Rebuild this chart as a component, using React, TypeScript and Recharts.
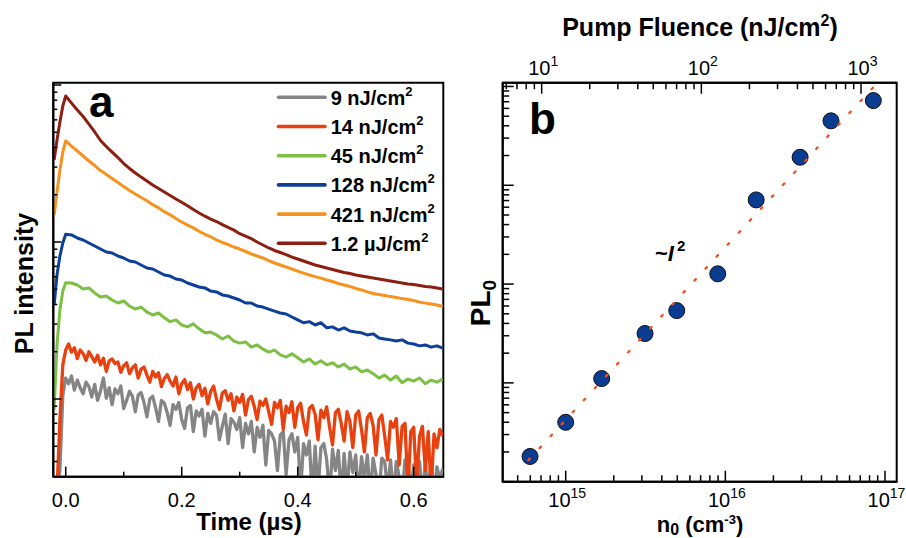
import React from 'react';
import { ComposedChart, Line, XAxis, YAxis, Scatter, Legend, ReferenceArea } from 'recharts';

const FONT = '"Liberation Sans", Arial, Helvetica, sans-serif';

// ---------- Panel a : PL decays (time in µs, PL intensity arb. units, log) ----------
const T_FINE = [
  -0.02, -0.015, -0.01, -0.005, 0, 0.005, 0.01, 0.015, 0.02, 0.025,
  0.03, 0.035, 0.04, 0.045, 0.05, 0.055, 0.06, 0.065, 0.07, 0.075,
  0.08, 0.085, 0.09, 0.095, 0.1, 0.105, 0.11, 0.115, 0.12, 0.125,
  0.13, 0.135, 0.14, 0.145, 0.15, 0.155, 0.16, 0.165, 0.17, 0.175,
  0.18, 0.185, 0.19, 0.195, 0.2, 0.205, 0.21, 0.215, 0.22, 0.225,
  0.23, 0.235, 0.24, 0.245, 0.25, 0.255, 0.26, 0.265, 0.27, 0.275,
  0.28, 0.285, 0.29, 0.295, 0.3, 0.305, 0.31, 0.315, 0.32, 0.325,
  0.33, 0.335, 0.34, 0.345, 0.35, 0.355, 0.36, 0.365, 0.37, 0.375,
  0.38, 0.385, 0.39, 0.395, 0.4, 0.405, 0.41, 0.415, 0.42, 0.425,
  0.43, 0.435, 0.44, 0.445, 0.45, 0.455, 0.46, 0.465, 0.47, 0.475,
  0.48, 0.485, 0.49, 0.495, 0.5, 0.505, 0.51, 0.515, 0.52, 0.525,
  0.53, 0.535, 0.54, 0.545, 0.55, 0.555, 0.56, 0.565, 0.57, 0.575,
  0.58, 0.585, 0.59, 0.595, 0.6, 0.605, 0.61, 0.615, 0.62, 0.625,
  0.63, 0.635, 0.64, 0.645, 0.65,
];

const T_COARSE = [
  -0.02, -0.015, -0.01, -0.005, 0, 0.01, 0.02, 0.03, 0.04, 0.05,
  0.06, 0.07, 0.08, 0.09, 0.1, 0.11, 0.12, 0.13, 0.14, 0.15,
  0.16, 0.17, 0.18, 0.19, 0.2, 0.21, 0.22, 0.23, 0.24, 0.25,
  0.26, 0.27, 0.28, 0.29, 0.3, 0.31, 0.32, 0.33, 0.34, 0.35,
  0.36, 0.37, 0.38, 0.39, 0.4, 0.41, 0.42, 0.43, 0.44, 0.45,
  0.46, 0.47, 0.48, 0.49, 0.5, 0.51, 0.52, 0.53, 0.54, 0.55,
  0.56, 0.57, 0.58, 0.59, 0.6, 0.61, 0.62, 0.63, 0.64, 0.65,
];

// 9 nJ/cm² (on T_FINE)
const PL_9 = [
  0.024, 0.024, 0.0353, 0.106, 0.136, 0.125, 0.14, 0.114, 0.132, 0.118,
  0.108, 0.128, 0.12, 0.103, 0.124, 0.098, 0.113, 0.136, 0.101, 0.118,
  0.092, 0.116, 0.108, 0.121, 0.087, 0.098, 0.112, 0.104, 0.083, 0.106,
  0.11, 0.095, 0.077, 0.1, 0.104, 0.088, 0.072, 0.098, 0.094, 0.082,
  0.068, 0.092, 0.086, 0.095, 0.074, 0.065, 0.088, 0.091, 0.062, 0.084,
  0.078, 0.086, 0.058, 0.081, 0.07, 0.083, 0.079, 0.055, 0.067, 0.08,
  0.052, 0.075, 0.071, 0.064, 0.076, 0.049, 0.07, 0.06, 0.072, 0.046,
  0.066, 0.057, 0.068, 0.038, 0.063, 0.06, 0.054, 0.035, 0.059, 0.062,
  0.033, 0.055, 0.06, 0.046, 0.057, 0.026, 0.052, 0.044, 0.054, 0.024,
  0.05, 0.026, 0.049, 0.052, 0.041, 0.024, 0.048, 0.035, 0.047, 0.024,
  0.045, 0.026, 0.046, 0.034, 0.044, 0.024, 0.043, 0.031, 0.044, 0.024,
  0.042, 0.033, 0.024, 0.042, 0.04, 0.026, 0.041, 0.024, 0.04, 0.032,
  0.024, 0.041, 0.039, 0.026, 0.038, 0.024, 0.04, 0.024, 0.038, 0.026,
  0.039, 0.024, 0.037, 0.031, 0.036,
];

// 14 nJ/cm² (on T_FINE)
const PL_14 = [
  0.024, 0.026, 0.0735, 0.165, 0.205, 0.224, 0.199, 0.212, 0.181, 0.205,
  0.195, 0.176, 0.2, 0.186, 0.172, 0.19, 0.165, 0.182, 0.15, 0.175,
  0.18, 0.168, 0.172, 0.148, 0.163, 0.17, 0.145, 0.158, 0.165, 0.136,
  0.155, 0.16, 0.142, 0.128, 0.15, 0.138, 0.147, 0.12, 0.135, 0.143,
  0.13, 0.121, 0.138, 0.108, 0.125, 0.133, 0.115, 0.127, 0.1, 0.118,
  0.124, 0.105, 0.117, 0.093, 0.112, 0.121, 0.1, 0.086, 0.109, 0.113,
  0.098, 0.108, 0.084, 0.103, 0.095, 0.107, 0.079, 0.099, 0.104, 0.09,
  0.074, 0.097, 0.091, 0.1, 0.083, 0.069, 0.095, 0.088, 0.098, 0.064,
  0.09, 0.082, 0.096, 0.066, 0.088, 0.094, 0.072, 0.059, 0.087, 0.091,
  0.08, 0.055, 0.085, 0.076, 0.089, 0.066, 0.051, 0.082, 0.086, 0.07,
  0.054, 0.083, 0.072, 0.049, 0.079, 0.084, 0.064, 0.046, 0.076, 0.081,
  0.068, 0.044, 0.074, 0.079, 0.058, 0.041, 0.072, 0.066, 0.075, 0.038,
  0.067, 0.07, 0.026, 0.062, 0.066, 0.028, 0.058, 0.067, 0.035, 0.062,
  0.026, 0.06, 0.049, 0.064, 0.058,
];

// 45 nJ/cm² (on T_COARSE)
const PL_45 = [
  0.0851, 0.221, 0.369, 0.487, 0.55, 0.548, 0.532, 0.502, 0.51, 0.474,
  0.446, 0.453, 0.427, 0.409, 0.421, 0.391, 0.374, 0.385, 0.358, 0.343,
  0.353, 0.329, 0.311, 0.319, 0.296, 0.288, 0.301, 0.28, 0.264, 0.267,
  0.256, 0.241, 0.252, 0.234, 0.227, 0.231, 0.214, 0.221, 0.208, 0.199,
  0.205, 0.191, 0.185, 0.194, 0.183, 0.172, 0.18, 0.167, 0.175, 0.165,
  0.17, 0.16, 0.167, 0.155, 0.16, 0.149, 0.153, 0.145, 0.136, 0.142,
  0.132, 0.14, 0.127, 0.134, 0.13, 0.136, 0.125, 0.132, 0.128, 0.134,
];

// 128 nJ/cm² (on T_COARSE)
const PL_128 = [
  0.397, 0.616, 0.814, 0.985, 1.12, 1.11, 1.06, 1.03, 0.985, 0.943,
  0.902, 0.864, 0.851, 0.814, 0.791, 0.757, 0.746, 0.714, 0.683, 0.673,
  0.644, 0.616, 0.607, 0.581, 0.573, 0.548, 0.532, 0.517, 0.51, 0.487,
  0.481, 0.46, 0.453, 0.44, 0.427, 0.409, 0.409, 0.391, 0.385, 0.374,
  0.363, 0.353, 0.348, 0.333, 0.319, 0.306, 0.311, 0.296, 0.306, 0.284,
  0.288, 0.275, 0.284, 0.271, 0.267, 0.264, 0.256, 0.26, 0.245, 0.241,
  0.238, 0.234, 0.238, 0.227, 0.224, 0.218, 0.221, 0.214, 0.218, 0.211,
];

// 421 nJ/cm² (on T_COARSE)
const PL_421 = [
  1.486, 2.08, 2.875, 3.74, 4.4, 4.08, 3.8, 3.53, 3.28, 3.07,
  2.85, 2.69, 2.54, 2.39, 2.26, 2.13, 2.02, 1.92, 1.83, 1.73,
  1.65, 1.56, 1.49, 1.41, 1.34, 1.28, 1.23, 1.17, 1.12, 1.08,
  1.03, 0.993, 0.964, 0.929, 0.902, 0.87, 0.839, 0.814, 0.791, 0.762,
  0.735, 0.714, 0.693, 0.673, 0.653, 0.634, 0.616, 0.602, 0.589, 0.573,
  0.56, 0.544, 0.532, 0.521, 0.506, 0.495, 0.481, 0.47, 0.463, 0.456,
  0.449, 0.443, 0.436, 0.43, 0.424, 0.414, 0.408, 0.403, 0.397, 0.388,
];

// 1.2 µJ/cm² (on T_COARSE)
const PL_1200 = [
  3.33, 4.46, 5.82, 7.35, 8.51, 7.67, 6.93, 6.3, 5.64, 5.02,
  4.43, 4.06, 3.74, 3.45, 3.16, 2.94, 2.75, 2.59, 2.45, 2.31,
  2.19, 2.08, 1.98, 1.88, 1.79, 1.7, 1.61, 1.53, 1.46, 1.4,
  1.35, 1.29, 1.24, 1.19, 1.13, 1.09, 1.05, 1.0, 0.957, 0.916,
  0.883, 0.857, 0.832, 0.802, 0.779, 0.757, 0.735, 0.714, 0.698, 0.683,
  0.668, 0.653, 0.639, 0.63, 0.616, 0.607, 0.598, 0.589, 0.581, 0.573,
  0.564, 0.556, 0.548, 0.54, 0.536, 0.528, 0.521, 0.517, 0.51, 0.502,
];

const SERIES_NAMES = ['9 nJ/cm²', '14 nJ/cm²', '45 nJ/cm²', '128 nJ/cm²', '421 nJ/cm²', '1.2 µJ/cm²'];
const SERIES_COLORS = ['#858585', '#e8410f', '#7bc043', '#0b3f9a', '#f7921e', '#8c1f12'];
const SERIES_TIMES = [T_FINE, T_FINE, T_COARSE, T_COARSE, T_COARSE, T_COARSE];
const SERIES_VALUES = [PL_9, PL_14, PL_45, PL_128, PL_421, PL_1200];

const A_X_DOMAIN = [-0.0214, 0.651];
const A_Y_DOMAIN = [0.032, 10.343];
const A_X_MAJOR = [0, 0.2, 0.4, 0.6];
const A_X_MINOR = [0.1, 0.3, 0.5];
const A_Y_MAJOR = [0.1, 1, 10];
const A_Y_MINOR = [0.04, 0.05, 0.06, 0.07, 0.08, 0.09, 0.2, 0.3, 0.4, 0.5, 0.6, 0.7, 0.8, 0.9, 2, 3, 4, 5, 6, 7, 8, 9];

// ---------- Panel b : PL0 vs n0 (bottom) / pump fluence (top) ----------
const N0 = [5.98e14, 1.0e15, 1.68e15, 3.14e15, 4.96e15, 8.96e15, 1.56e16, 2.94e16, 4.59e16, 8.45e16];
const FLUENCE = [8.45, 14.2, 23.7, 44.3, 70, 126.5, 220, 413, 650, 1200];
const PL0 = [1.8, 3.99, 11.05, 31.6, 53.9, 127, 711, 1920, 4487, 7194];
const FIT_N0 = [5.84e14, 8.46e16];
const FIT_PL0 = [1.654, 9840];

const B_X_DOMAIN = [4.03e14, 1.184e17];
const B_TOP_DOMAIN = [5.7, 1673];
const B_Y_DOMAIN = [1, 10914];
const B_X_MAJOR = [1e15, 1e16, 1e17];
const B_X_MINOR = [5e14, 6e14, 7e14, 8e14, 9e14, 2e15, 3e15, 4e15, 5e15, 6e15, 7e15, 8e15, 9e15,
  2e16, 3e16, 4e16, 5e16, 6e16, 7e16, 8e16, 9e16];
const B_TOP_MAJOR = [10, 100, 1000];
const B_TOP_MINOR = [6, 7, 8, 9, 20, 30, 40, 50, 60, 70, 80, 90, 200, 300, 400, 500, 600, 700, 800, 900];
const B_Y_MAJOR = [1, 10, 100, 1000, 10000];
const B_Y_MINOR = [2, 3, 4, 5, 6, 7, 8, 9, 20, 30, 40, 50, 60, 70, 80, 90, 200, 300, 400, 500, 600, 700, 800, 900,
  2000, 3000, 4000, 5000, 6000, 7000, 8000, 9000];

const sortNum = (a: number[]) => [...a].sort((p, q) => p - q);

function isIn(v: number, arr: number[]) {
  return arr.some((m) => Math.abs(m - v) <= 1e-9 * Math.max(Math.abs(m), 1e-9));
}

type Side = 'bottom' | 'top' | 'left';
function makeTick(
  side: Side,
  majors: number[],
  majorLen: number,
  minorLen: number,
  renderLabel?: (v: number, x: number, y: number) => React.ReactNode
) {
  return function Tick(props: any) {
    const { x, y, payload } = props;
    const v = payload.value;
    const major = isIn(v, majors);
    const len = major ? majorLen : minorLen;
    const x2 = side === 'left' ? x + len : x;
    const y2 = side === 'bottom' ? y - len : side === 'top' ? y + len : y;
    return (
      <g>
        <line x1={x} y1={y} x2={x2} y2={y2} stroke="#000" strokeWidth={1.5} />
        {major && renderLabel ? renderLabel(v, x, y) : null}
      </g>
    );
  };
}

const tickA_X = makeTick('bottom', A_X_MAJOR, 10, 5, (v, x, y) => (
  <text x={x} y={y + 30} textAnchor="middle" fontSize={20} fontFamily={FONT} fill="#000">
    {v.toFixed(1)}
  </text>
));
const tickA_Y = makeTick('left', A_Y_MAJOR, 8, 4);

const powLabel = (dy: number) => (v: number, x: number, y: number) => (
  <text x={x + 1.5} y={y + dy} textAnchor="middle" fontSize={20} fontFamily={FONT} fill="#000">
    10
    <tspan dy={-9} fontSize={14}>{String(Math.round(Math.log10(v)))}</tspan>
  </text>
);
const tickB_X = makeTick('bottom', B_X_MAJOR, 11, 6.5, powLabel(25));
const tickB_TOP = makeTick('top', B_TOP_MAJOR, 11, 6.5, powLabel(-7.7));
const tickB_Y = makeTick('left', B_Y_MAJOR, 11, 6.5);

const FRAME = { stroke: '#000', strokeWidth: 2 };

function renderLegend(props: any) {
  const raw = props.payload || [];
  const items = SERIES_NAMES.map((n) => raw.find((it: any) => it.value === n)).filter(Boolean);
  return (
    <svg width={190} height={180} style={{ overflow: 'visible', display: 'block' }}>
      {items.map((it: any, i: number) => {
        const cy = 17.3 + i * 29.2;
        const name = String(it.value);
        return (
          <g key={name}>
            <line x1={8.5} x2={55} y1={cy} y2={cy} stroke={it.color} strokeWidth={3.6} strokeLinecap="round" />
            <text x={60.7} y={cy + 7.5} fontSize={20} fontWeight="bold" fontFamily={FONT} fill="#000">
              {name.slice(0, -1)}
              <tspan dy={-9} fontSize={13}>2</tspan>
            </text>
          </g>
        );
      })}
    </svg>
  );
}

function PointShape(p: any) {
  return <circle cx={p.cx} cy={p.cy} r={8} fill="#0a3d92" stroke="#101010" strokeWidth={1} />;
}
const NoShape = () => <g />;

export default function App() {
  const seriesA = SERIES_NAMES.map((name, i) => ({
    name,
    color: SERIES_COLORS[i],
    noisy: SERIES_TIMES[i] === T_FINE,
    data: SERIES_TIMES[i].map((t, j) => ({ t, v: SERIES_VALUES[i][j] })),
  }));
  const points = N0.map((n, i) => ({ n, pl: PL0[i] }));
  const pointsTop = FLUENCE.map((f, i) => ({ f, pl: PL0[i] }));
  const fit = FIT_N0.map((n, i) => ({ n, pl: FIT_PL0[i] }));

  return (
    <div style={{ position: 'absolute', left: 0, top: 0, width: 906, height: 538, background: '#fff', fontFamily: FONT }}>
      <div style={{ position: 'absolute', left: 0, top: 0 }}>
        <ComposedChart width={460} height={538} margin={{ top: 82.7, right: 16.7, bottom: 31.3, left: 52.3 }}>
          <XAxis
            dataKey="t"
            type="number"
            domain={A_X_DOMAIN}
            allowDataOverflow
            ticks={sortNum([...A_X_MAJOR, ...A_X_MINOR])}
            interval={0}
            tick={tickA_X}
            tickLine={false}
            tickSize={0}
            tickMargin={0}
            height={30}
            axisLine={FRAME}
          />
          <YAxis
            type="number"
            scale="log"
            domain={A_Y_DOMAIN}
            allowDataOverflow
            ticks={sortNum([...A_Y_MAJOR, ...A_Y_MINOR])}
            interval={0}
            tick={tickA_Y}
            tickLine={false}
            tickSize={0}
            tickMargin={0}
            width={1}
            axisLine={FRAME}
          />
          {seriesA.map((s) => (
            <Line
              key={s.name}
              name={s.name}
              data={s.data}
              dataKey="v"
              type="linear"
              stroke={s.color}
              strokeWidth={s.noisy ? 3.3 : 3}
              strokeLinejoin="round"
              dot={false}
              activeDot={false}
              isAnimationActive={false}
              legendType="line"
            />
          ))}
          <ReferenceArea
            x1={A_X_DOMAIN[0]}
            x2={A_X_DOMAIN[1]}
            y1={A_Y_DOMAIN[0]}
            y2={A_Y_DOMAIN[1]}
            fill="none"
            fillOpacity={0}
            stroke="#000"
            strokeWidth={2}
            ifOverflow="visible"
          />
          <Legend
            layout="vertical"
            align="center"
            verticalAlign="middle"
            content={renderLegend}
            wrapperStyle={{ left: 270, top: 80, width: 190, height: 180 }}
          />
        </ComposedChart>
      </div>

      <div style={{ position: 'absolute', left: 460, top: 0 }}>
        <ComposedChart width={446} height={538} margin={{ top: 52.7, right: 9.3, bottom: 26.3, left: 41.7 }}>
          <XAxis
            dataKey="n"
            type="number"
            scale="log"
            domain={B_X_DOMAIN}
            allowDataOverflow
            ticks={sortNum([...B_X_MAJOR, ...B_X_MINOR])}
            interval={0}
            tick={tickB_X}
            tickLine={false}
            tickSize={0}
            tickMargin={0}
            height={30}
            axisLine={FRAME}
          />
          <XAxis
            xAxisId="top"
            dataKey="f"
            orientation="top"
            type="number"
            scale="log"
            domain={B_TOP_DOMAIN}
            allowDataOverflow
            ticks={sortNum([...B_TOP_MAJOR, ...B_TOP_MINOR])}
            interval={0}
            tick={tickB_TOP}
            tickLine={false}
            tickSize={0}
            tickMargin={0}
            height={30}
            axisLine={FRAME}
          />
          <YAxis
            dataKey="pl"
            type="number"
            scale="log"
            domain={B_Y_DOMAIN}
            allowDataOverflow
            ticks={sortNum([...B_Y_MAJOR, ...B_Y_MINOR])}
            interval={0}
            tick={tickB_Y}
            tickLine={false}
            tickSize={0}
            tickMargin={0}
            width={1}
            axisLine={FRAME}
          />
          <ReferenceArea
            x1={B_X_DOMAIN[0]}
            x2={B_X_DOMAIN[1]}
            y1={B_Y_DOMAIN[0]}
            y2={B_Y_DOMAIN[1]}
            fill="none"
            fillOpacity={0}
            stroke="#000"
            strokeWidth={2}
            ifOverflow="visible"
          />
          <Scatter name="fluence" xAxisId="top" data={pointsTop} dataKey="pl" shape={NoShape} legendType="none" isAnimationActive={false} />
          <Scatter name="PL0" data={points} dataKey="pl" shape={PointShape} isAnimationActive={false} />
          <Line
            name="fit"
            data={fit}
            dataKey="pl"
            type="linear"
            stroke="#f0501e"
            strokeWidth={2.3}
            strokeDasharray="2 14.3"
            strokeLinecap="round"
            dot={false}
            activeDot={false}
            isAnimationActive={false}
            {...({ zIndex: 700 } as any)}
          />
        </ComposedChart>
      </div>

      <svg width={906} height={538} style={{ position: 'absolute', left: 0, top: 0, pointerEvents: 'none' }}>
        <g fontFamily={FONT} fontWeight="bold" fill="#000">
          <text x={89} y={117} fontSize={44}>a</text>
          <text x={529} y={133.5} fontSize={44}>b</text>
          <text transform="translate(33,283.5) rotate(-90)" textAnchor="middle" fontSize={25}>PL intensity</text>
          <text x={249} y={530} textAnchor="middle" fontSize={24}>Time (µs)</text>
          <text x={700} y={36} textAnchor="middle" fontSize={25}>
            Pump Fluence (nJ/cm<tspan dy={-10} fontSize={16}>2</tspan><tspan dy={10}>)</tspan>
          </text>
          <text x={700} y={532} textAnchor="middle" fontSize={22}>
            n<tspan dy={3} fontSize={16}>0</tspan><tspan dy={-3}> (cm</tspan><tspan dy={-8} fontSize={13}>-3</tspan><tspan dy={8}>)</tspan>
          </text>
          <text transform="translate(490,303) rotate(-90)" textAnchor="middle" fontSize={28}>
            PL<tspan dy={6} fontSize={19}>0</tspan>
          </text>
          <text x={655} y={261} fontSize={22}>
            ~<tspan fontStyle="italic">I</tspan><tspan dx={3} dy={-10} fontSize={15}>2</tspan>
          </text>
        </g>
      </svg>
    </div>
  );
}
